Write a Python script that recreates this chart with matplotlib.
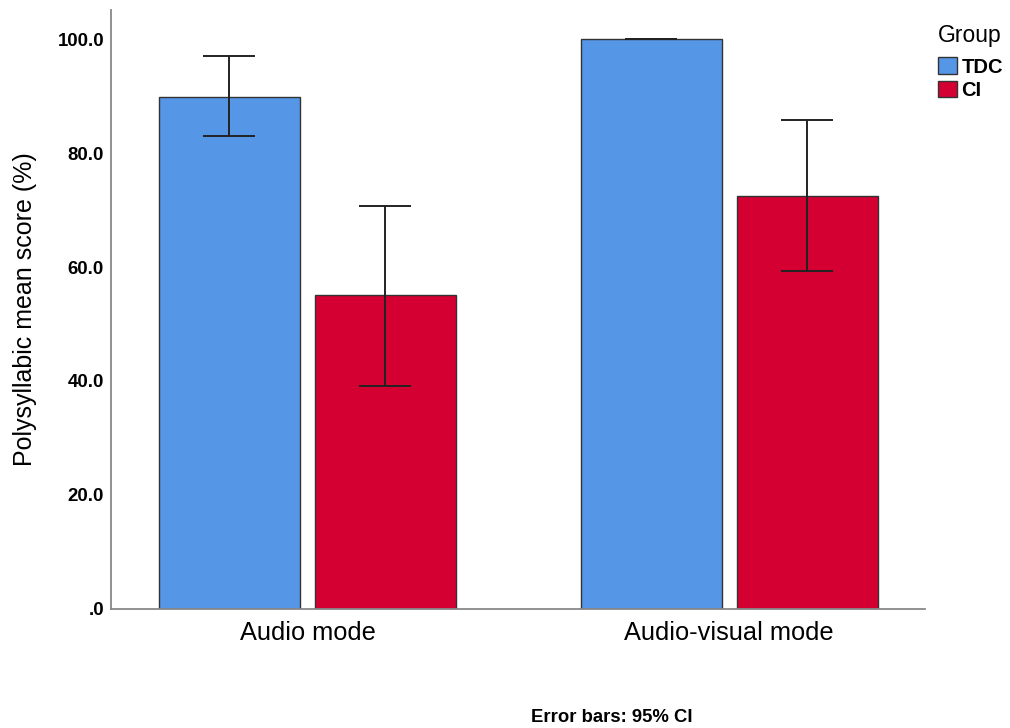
import numpy as np
import matplotlib.pyplot as plt
from matplotlib.patches import Patch

plt.rcParams['font.family'] = ['Liberation Sans', 'DejaVu Sans']

modes = ["Audio mode", "Audio-visual mode"]
groups = ["TDC", "CI"]
tdc_mean = [89.9, 100.0]
tdc_low = [83.0, 100.0]
tdc_high = [97.0, 100.0]
ci_mean = [55.1, 72.4]
ci_low = [39.1, 59.3]
ci_high = [70.8, 85.8]

colors = ["#5596E6", "#D50032"]

fig = plt.figure(figsize=(10.1, 7.28), dpi=100)
ax = fig.add_axes([0.1099, 0.1639, 0.806, 0.822])

x = np.arange(len(modes))
w = 0.3345
off = 0.185
for i, (m, lo, hi) in enumerate([(tdc_mean, tdc_low, tdc_high), (ci_mean, ci_low, ci_high)]):
    pos = x + (-off if i == 0 else off)
    ax.bar(pos, m, width=w, color=colors[i], edgecolor="#333333", linewidth=1.0, zorder=2)
    m = np.array(m); lo = np.array(lo); hi = np.array(hi)
    ax.errorbar(pos, m, yerr=[m - lo, hi - m], fmt="none", ecolor="#222222",
                elinewidth=1.4, capsize=19, capthick=1.4, zorder=3)

ax.set_xlim(-0.466, 1.465)
ax.set_ylim(0, 105.1)
ax.set_yticks([0, 20, 40, 60, 80, 100])
ax.set_yticklabels([".0", "20.0", "40.0", "60.0", "80.0", "100.0"], fontsize=13.4, fontweight="bold")
ax.set_xticks(x)
ax.set_xticklabels(modes, fontsize=18.3)
ax.tick_params(axis="y", length=0, pad=5)
ax.tick_params(axis="x", length=0, pad=9)
for s in ["top", "right"]:
    ax.spines[s].set_visible(False)
for s in ["left", "bottom"]:
    ax.spines[s].set_color("#888888")
    ax.spines[s].set_linewidth(1.3)
ax.set_ylabel("Polysyllabic mean score (%)", fontsize=18)
ax.yaxis.set_label_coords(-0.091, 0.5)

handles = [Patch(facecolor=colors[i], edgecolor="#333333", label=groups[i]) for i in range(2)]
leg = fig.legend(handles=handles, loc="upper left", bbox_to_anchor=(0.929, 0.967),
                 title="Group", frameon=False, prop={"size": 14.5, "weight": "bold"},
                 title_fontsize=16.5, handlelength=0.95, handleheight=0.9,
                 handletextpad=0.2, labelspacing=0.2, borderaxespad=0, borderpad=0)
leg._legend_box.align = "left"
leg._legend_box.sep = 7.5

fig.text(0.606, 0.015, "Error bars: 95% CI", ha="center", va="center", fontsize=13.3, fontweight="bold")

fig.savefig("out.png", dpi=100)
